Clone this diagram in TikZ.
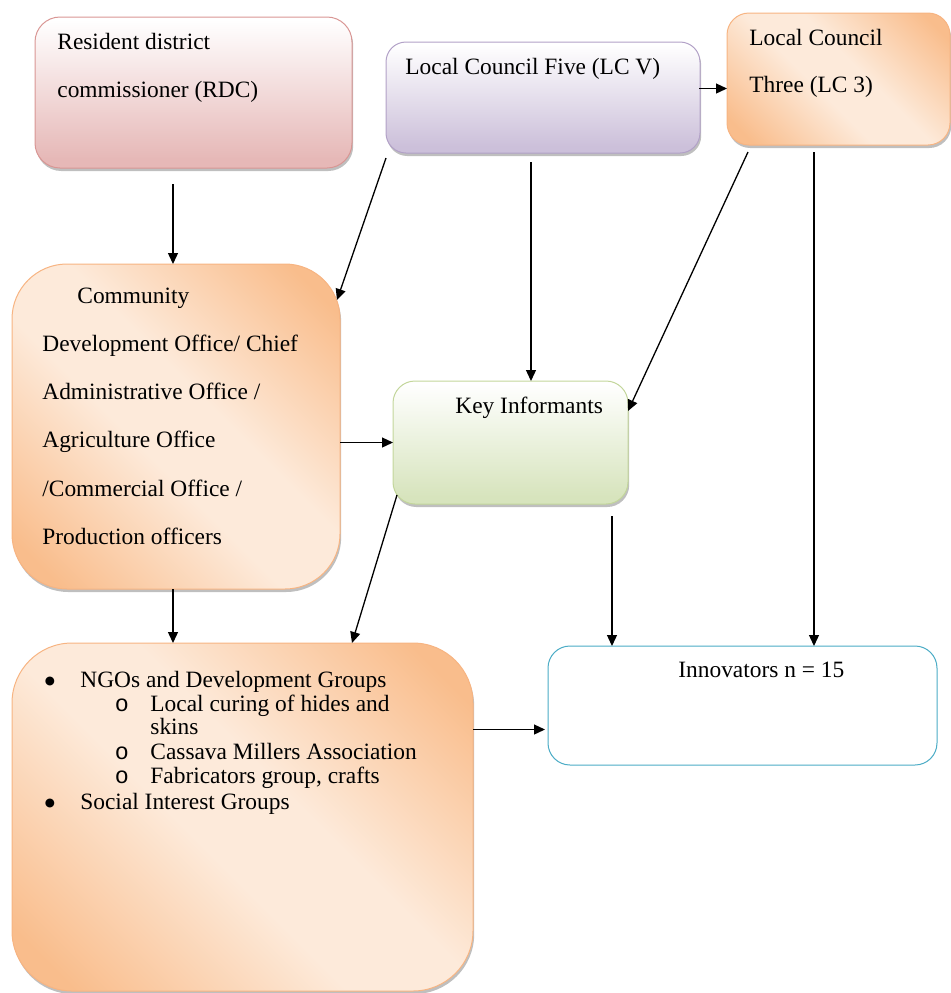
\documentclass[tikz,border=0pt]{standalone}
\usepackage{fontspec}
\setmainfont{Liberation Serif}
\newfontfamily\monofnt{Liberation Mono}
\newfontfamily\dejavu{DejaVu Sans}
\usetikzlibrary{arrows.meta,calc,shadows}
\definecolor{peachD}{RGB}{249,189,140}
\definecolor{peachL}{RGB}{253,234,218}
\definecolor{peachB}{RGB}{247,180,130}
\definecolor{rdcB}{RGB}{230,184,183}
\definecolor{rdcE}{RGB}{217,150,148}
\definecolor{lcvB}{RGB}{204,192,218}
\definecolor{lcvE}{RGB}{178,161,199}
\definecolor{kiB}{RGB}{215,228,189}
\definecolor{kiE}{RGB}{195,214,155}
\definecolor{innE}{RGB}{75,172,198}
\pgfdeclarehorizontalshading{peachsh}{100bp}{color(0bp)=(peachD); color(20bp)=(peachD); color(44bp)=(peachL); color(56bp)=(peachL); color(80bp)=(peachD); color(100bp)=(peachD)}
\pgfdeclareverticalshading{rdcsh}{100bp}{color(0bp)=(rdcB); color(28bp)=(rdcB); color(74bp)=(white); color(100bp)=(white)}
\pgfdeclareverticalshading{lcvsh}{100bp}{color(0bp)=(lcvB); color(28bp)=(lcvB); color(74bp)=(white); color(100bp)=(white)}
\pgfdeclareverticalshading{kish}{100bp}{color(0bp)=(kiB); color(28bp)=(kiB); color(74bp)=(white); color(100bp)=(white)}
\begin{document}
\begin{tikzpicture}[x=0.5pt,y=-0.5pt,
  box/.style={rectangle, inner sep=0pt, outer sep=0pt, line width=0.5pt},
  shad/.style={general shadow={shadow xshift=0.6pt, shadow yshift=-1.5pt, fill=black, opacity=0.25}},
  peachbox/.style={box, shad, draw=peachB, shading=peachsh, shading angle=45},
  txt/.style={anchor=base west, inner sep=0pt, font=\fontsize{11.7}{14}\selectfont},
  bul/.style={anchor=center, inner sep=0pt, font=\dejavu\fontsize{5.8}{6}\selectfont},
  arr/.style={-{Triangle[length=5.5pt,width=5pt]}, line width=0.65pt}]
\useasboundingbox (0,0) rectangle (951,993);
% boxes
\node[box, shad, draw=rdcE, shading=rdcsh, rounded corners=12.5pt, minimum width=158.5pt, minimum height=75.5pt] (rdc) at (193.5,92.5) {};
\node[box, shad, draw=lcvE, shading=lcvsh, rounded corners=10pt, minimum width=157pt, minimum height=55.5pt] (lcv) at (543,97.5) {};
\node[peachbox, rounded corners=11pt, minimum width=111.5pt, minimum height=66pt] (lc3) at (838.5,79) {};
\node[peachbox, rounded corners=27.5pt, minimum width=164pt, minimum height=162.5pt] (comm) at (176,426.5) {};
\node[box, shad, draw=kiE, shading=kish, rounded corners=11pt, minimum width=117.5pt, minimum height=61.5pt] (ki) at (510.5,442.5) {};
\node[box, draw=innE, fill=white, rounded corners=11pt, minimum width=194.5pt, minimum height=59.5pt] (inn) at (742.5,705.5) {};
\node[peachbox, rounded corners=30pt, minimum width=230.5pt, minimum height=174pt] (ngo) at (242.5,817) {};
% texts
\node[txt] (t1) at (57,49) {Resident district};
\node[txt] (t2) at (57,97) {commissioner (RDC)};
\node[txt] (t3) at (405,74) {Local Council Five (LC V)};
\node[txt] (t4) at (749,45) {Local Council};
\node[txt] (t5) at (749,92) {Three (LC 3)};
\node[txt] (c1) at (77,303) {Community};
\node[txt] (c2) at (42,351) {Development Office/ Chief};
\node[txt] (c3) at (42,399) {Administrative Office /};
\node[txt] (c4) at (42,447) {Agriculture Office};
\node[txt] (c5) at (42,496) {/Commercial Office /};
\node[txt] (c6) at (42,544) {Production officers};
\node[txt] (k1) at (455,413) {Key Informants};
\node[txt] (i1) at (678,677) {Innovators n = 15};
\node[bul] (b1) at (50,681) {●};
\node[txt] (n1) at (80,687) {NGOs and Development Groups};
\node[txt, anchor=base] (b2) at (122,711) {\monofnt o};
\node[txt] (n2) at (150,711) {Local curing of hides and};
\node[txt] (n3) at (150,734) {skins};
\node[txt, anchor=base] (b3) at (122,759) {\monofnt o};
\node[txt] (n4) at (150,759) {Cassava Millers Association};
\node[txt, anchor=base] (b4) at (122,783) {\monofnt o};
\node[txt] (n5) at (150,783) {Fabricators group, crafts};
\node[bul] (b5) at (50,803) {●};
\node[txt] (n6) at (80,809) {Social Interest Groups};
% connectors
\draw[arr] ($(rdc.south -| comm.north)+(-3,16)$) -- ($(comm.north)+(-3,0)$);
\draw[arr] ($(lcv.south west)+(0,5)$) -- ($(comm.north east)+(-3,36)$);
\draw[arr] ($(lcv.east)+(-1,-9)$) -- ($(lcv.east -| lc3.west)+(0,-9)$);
\draw[arr] ($(lcv.south)+(-12,9)$) -- ($(lcv.south |- ki.north)+(-12,0)$);
\draw[arr] ($(lc3.south west)+(21,7)$) -- ($(ki.north east)+(0,30)$);
\draw[arr] ($(lc3.south west)+(87,7)$) -- ($(lc3.south west |- inn.north)+(87,0)$);
\draw[arr] (comm.east |- ki.west) -- (ki.west);
\draw[arr] ($(comm.south)+(-3,0)$) -- ($(comm.south |- ngo.north)+(-3,0)$);
\draw[arr] ($(ki.south west)+(4,-9)$) -- ($(ngo.north west)+(340,0)$);
\draw[arr] ($(ki.south east)+(-16,12)$) -- ($(ki.south east |- inn.north)+(-16,0)$);
\coordinate (n2i) at ($(inn.west)+(-3,24)$);
\draw[arr] (ngo.east |- n2i) -- (n2i);
\end{tikzpicture}
\end{document}
